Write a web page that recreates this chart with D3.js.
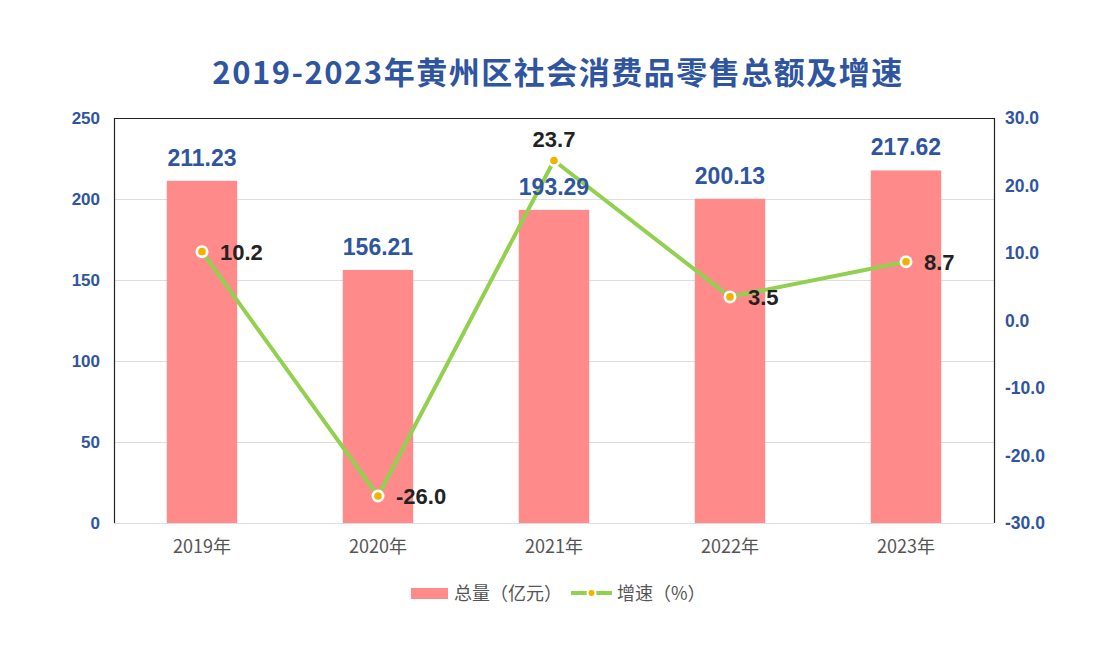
<!DOCTYPE html>
<html>
<head>
<meta charset="utf-8">
<script src="https://cdnjs.cloudflare.com/ajax/libs/d3/7.8.5/d3.min.js"></script>
<style>
  body { margin: 0; background: #fff; }
  text { font-family: "Noto Sans CJK SC", "Liberation Sans", Arial, sans-serif; }
</style>
</head>
<body>
<div id="canvas"></div>
<script>
var years = ["2019年", "2020年", "2021年", "2022年", "2023年"];
var totals = [211.23, 156.21, 193.29, 200.13, 217.62];
var growth = [10.2, -26.0, 23.7, 3.5, 8.7];
var leftTicks = [0, 50, 100, 150, 200, 250];
var rightTicks = [-30, -20, -10, 0, 10, 20, 30];

var width = 1102,
    height = 646,
    margin = { top: 118, right: 108, bottom: 123, left: 114 };

var blue = "#2f55a0";

var svg = d3.select("#canvas")
    .append("svg")
    .attr("width", width)
    .attr("height", height);

var x = d3.scaleBand()
    .domain(years)
    .range([margin.left, width - margin.right])
    .paddingInner(0.6)
    .paddingOuter(0.3);

var yL = d3.scaleLinear().domain([0, 250]).range([height - margin.bottom, margin.top]);
var yR = d3.scaleLinear().domain([-30, 30]).range([height - margin.bottom, margin.top]);

// gridlines
svg.append("g")
    .selectAll("line")
    .data(leftTicks)
    .enter()
    .append("line")
    .attr("x1", margin.left)
    .attr("x2", width - margin.right)
    .attr("y1", function(d) { return yL(d) + 0.5; })
    .attr("y2", function(d) { return yL(d) + 0.5; })
    .style("stroke", "#dedede")
    .style("stroke-width", 1);

// frame: left, top, right
var x0 = margin.left + 0.5, x1 = width - margin.right + 0.5, yt = margin.top + 0.5, yb = height - margin.bottom;
svg.append("path")
    .attr("d", "M" + x0 + "," + yb + "V" + yt + "H" + x1 + "V" + yb)
    .style("fill", "none")
    .style("stroke", "#222")
    .style("stroke-width", 1.2);

// bars
svg.append("g")
    .selectAll("rect")
    .data(totals)
    .enter()
    .append("rect")
    .attr("x", function(d, i) { return x(years[i]); })
    .attr("y", function(d) { return yL(d); })
    .attr("width", x.bandwidth())
    .attr("height", function(d) { return yL(0) - yL(d); })
    .style("fill", "#ff8a8a");

// left axis
var axL = svg.append("g")
    .attr("transform", "translate(" + margin.left + ",0)")
    .call(d3.axisLeft(yL).tickValues(leftTicks).tickSize(0).tickPadding(14));
axL.select(".domain").remove();
axL.selectAll("text")
    .style("font-family", "'Liberation Sans', Arial, sans-serif")
    .style("font-size", "17px")
    .style("font-weight", "bold")
    .style("fill", blue);

// right axis
var axR = svg.append("g")
    .attr("transform", "translate(" + (width - margin.right) + ",0)")
    .call(d3.axisRight(yR).tickValues(rightTicks)
        .tickFormat(function(d) { return d.toFixed(1); })
        .tickSize(0).tickPadding(11));
axR.select(".domain").remove();
axR.selectAll("text")
    .style("font-family", "'Liberation Sans', Arial, sans-serif")
    .style("font-size", "17.5px")
    .style("font-weight", "bold")
    .style("fill", blue);

// x axis
var axX = svg.append("g")
    .attr("transform", "translate(0," + (height - margin.bottom) + ")")
    .call(d3.axisBottom(x).tickSize(0).tickPadding(17));
axX.select(".domain").remove();
axX.selectAll("text")
    .style("font-size", "18px")
    .style("fill", "#555");

// growth line
var cx = function(d, i) { return x(years[i]) + x.bandwidth() / 2; };
var line = d3.line()
    .x(cx)
    .y(function(d) { return yR(d); });

svg.append("path")
    .datum(growth)
    .attr("d", line)
    .style("fill", "none")
    .style("stroke", "#92d050")
    .style("stroke-width", 4)
    .style("stroke-linejoin", "round");

var pts = svg.append("g")
    .selectAll("g")
    .data(growth)
    .enter()
    .append("g")
    .attr("transform", function(d, i) { return "translate(" + cx(d, i) + "," + yR(d) + ")"; });
pts.append("circle")
    .attr("r", 6.5)
    .style("fill", "#fff");
pts.append("circle")
    .attr("r", 3.8)
    .style("fill", "#f0b400");

// bar labels (on top of the line)
svg.append("g")
    .selectAll("text")
    .data(totals)
    .enter()
    .append("text")
    .attr("x", function(d, i) { return x(years[i]) + x.bandwidth() / 2; })
    .attr("y", function(d) { return yL(d) - 15; })
    .attr("text-anchor", "middle")
    .style("font-family", "'Liberation Sans', Arial, sans-serif")
    .style("font-size", "23px")
    .style("font-weight", "bold")
    .style("fill", blue)
    .text(function(d) { return d.toFixed(2); });

// growth labels
svg.append("g")
    .selectAll("text")
    .data(growth)
    .enter()
    .append("text")
    .attr("x", function(d, i) { return d === d3.max(growth) ? cx(d, i) : cx(d, i) + 18; })
    .attr("y", function(d) { return d === d3.max(growth) ? yR(d) - 14 : yR(d) + 8; })
    .attr("text-anchor", function(d) { return d === d3.max(growth) ? "middle" : "start"; })
    .style("font-family", "'Liberation Sans', Arial, sans-serif")
    .style("font-size", "22px")
    .style("font-weight", "bold")
    .style("fill", "#222")
    .text(function(d) { return d.toFixed(1); });

// title
svg.append("text")
    .attr("x", 558)
    .attr("y", 84)
    .attr("text-anchor", "middle")
    .style("font-size", "31px")
    .style("font-weight", "bold")
    .style("letter-spacing", "1.5px")
    .style("fill", blue)
    .text("2019-2023年黄州区社会消费品零售总额及增速");

// legend
var lg = svg.append("g").attr("transform", "translate(0,593)");
lg.append("rect")
    .attr("x", 411).attr("y", -5).attr("width", 37).attr("height", 11)
    .style("fill", "#ff8a8a");
lg.append("text")
    .attr("x", 454).attr("y", 6.5)
    .style("font-size", "18px").style("fill", "#555")
    .text("总量（亿元）");
lg.append("line")
    .attr("x1", 571).attr("x2", 612).attr("y1", 0).attr("y2", 0)
    .style("stroke", "#92d050").style("stroke-width", 4);
lg.append("circle").attr("cx", 591.5).attr("cy", 0).attr("r", 5).style("fill", "#fff");
lg.append("circle").attr("cx", 591.5).attr("cy", 0).attr("r", 3).style("fill", "#f0b400");
lg.append("text")
    .attr("x", 617).attr("y", 6.5)
    .style("font-size", "18px").style("fill", "#555")
    .text("增速（%）");
</script>
</body>
</html>
